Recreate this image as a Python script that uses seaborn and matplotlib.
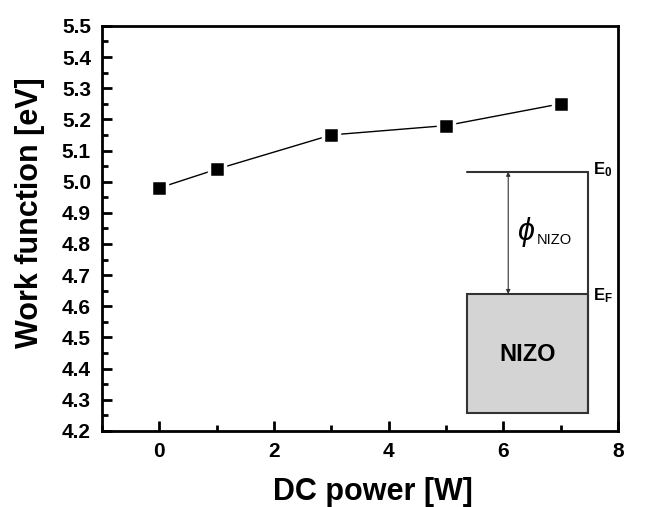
import matplotlib
matplotlib.use('Agg')
import matplotlib.pyplot as plt
import seaborn as sns
import pandas as pd
from matplotlib.patches import Rectangle
from matplotlib.ticker import MultipleLocator

# Work function vs DC power
power = [0, 1, 3, 5, 7]
work_function = [4.98, 5.04, 5.15, 5.18, 5.25]

df = pd.DataFrame({'power': power, 'wf': work_function})

sns.set_style('ticks')
plt.rcParams['font.family'] = ['Liberation Sans', 'DejaVu Sans']
plt.rcParams['mathtext.fontset'] = 'custom'
plt.rcParams['mathtext.rm'] = 'Liberation Sans'
plt.rcParams['mathtext.it'] = 'Liberation Sans:italic'
plt.rcParams['mathtext.bf'] = 'Liberation Sans:bold'
for key in ['text.color', 'axes.labelcolor', 'xtick.color', 'ytick.color']:
    plt.rcParams[key] = 'black'

fig, ax = plt.subplots(figsize=(6.5, 5.07), dpi=100)
fig.subplots_adjust(left=0.157, right=0.951, top=0.949, bottom=0.150)

sns.lineplot(data=df, x='power', y='wf', ax=ax, color='black', linewidth=1.0,
             marker='s', markersize=11.5, markerfacecolor='black',
             markeredgecolor='white', markeredgewidth=2.5)

ax.set_xlim(-1, 8)
ax.set_ylim(4.2, 5.5)
ax.xaxis.set_major_locator(MultipleLocator(2))
ax.xaxis.set_minor_locator(MultipleLocator(1))
ax.yaxis.set_major_locator(MultipleLocator(0.1))
ax.yaxis.set_minor_locator(MultipleLocator(0.05))
ax.yaxis.set_major_formatter(matplotlib.ticker.FormatStrFormatter('%.1f'))

ax.tick_params(which='major', direction='in', length=7, width=2, labelsize=15, pad=8)
ax.tick_params(which='minor', direction='in', length=4, width=2)
for lbl in ax.get_xticklabels() + ax.get_yticklabels():
    lbl.set_fontweight('bold')
for sp in ax.spines.values():
    sp.set_visible(True)
    sp.set_linewidth(2)
    sp.set_color('black')

ax.set_xlabel('DC power [W]', fontsize=22, fontweight='bold')
ax.set_ylabel('Work function [eV]', fontsize=22, fontweight='bold')
ax.xaxis.set_label_coords(0.525, -0.114)
ax.yaxis.set_label_coords(-0.11, 0.538)

# energy band inset
tr = ax.transAxes
x0, x1 = 0.707, 0.942
y_bot, y_f, y_0 = 0.044, 0.338, 0.640
gray = '#333333'
ax.add_patch(Rectangle((x0, y_bot), x1 - x0, y_f - y_bot, transform=tr,
                       facecolor='#d4d4d4', edgecolor=gray, linewidth=1.5))
ax.plot([x0, x1], [y_0, y_0], transform=tr, color=gray, linewidth=1.5)
ax.plot([x1, x1], [y_bot, y_0], transform=tr, color=gray, linewidth=1.5)
ax.annotate('', xy=(0.787, y_0), xytext=(0.787, y_f), xycoords=tr, textcoords=tr,
            arrowprops=dict(arrowstyle='<|-|>', color=gray, lw=0.8,
                            mutation_scale=6, shrinkA=0, shrinkB=0))
ax.text(0.822, 0.49, r'$\phi$', transform=tr, fontsize=22, ha='center', va='center')
ax.text(0.842, 0.472, 'NIZO', transform=tr, fontsize=10.5, ha='left', va='center')
ax.text(0.952, y_0 + 0.005, r'$\mathbf{E_0}$', transform=tr, fontsize=12, ha='left', va='center')
ax.text(0.952, y_f - 0.005, r'$\mathbf{E_F}$', transform=tr, fontsize=12, ha='left', va='center')
ax.text(0.824, 0.188, 'NIZO', transform=tr, fontsize=17, fontweight='bold',
        ha='center', va='center')

plt.savefig('out.png', dpi=100)
